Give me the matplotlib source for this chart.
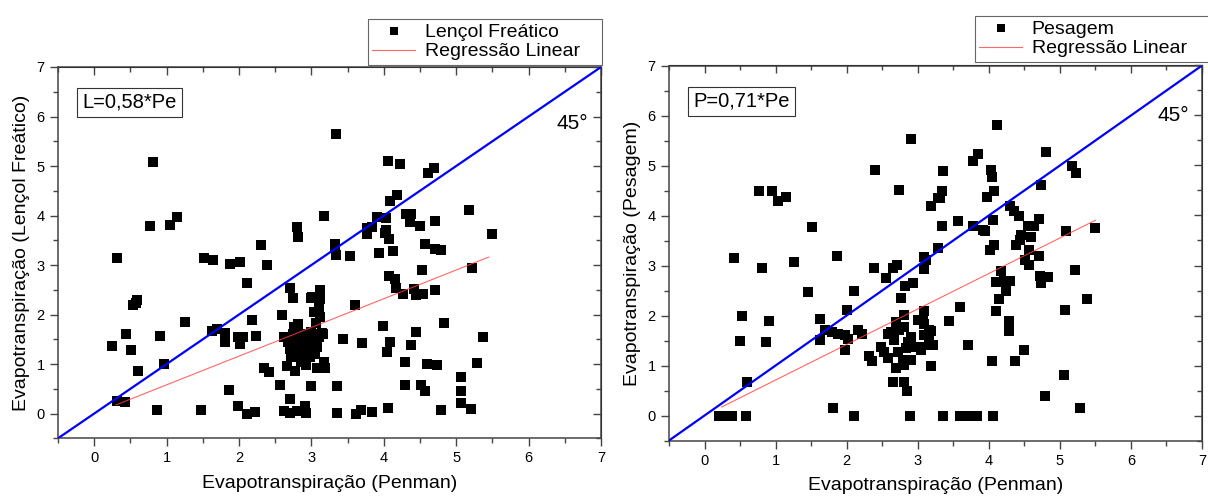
import numpy as np
import matplotlib
matplotlib.use("Agg")
import matplotlib.pyplot as plt

plt.rcParams["font.family"] = ["Liberation Sans", "DejaVu Sans"]

# Lençol freático vs Penman (mm/dia)
lf_x = [3.34, 0.81, 0.77, 1.05, 1.14, 0.31, 1.52, 1.64, 1.88, 2.01, 2.11, 2.31, 2.38, 2.80, 2.81,
        3.18, 3.32, 3.33, 3.34, 3.54, 2.71, 2.75, 2.99, 3.12, 3.12, 0.59,
        4.06, 4.23, 4.61, 4.69, 4.18, 4.09, 3.91, 4.03, 4.31, 4.38, 4.36, 4.50, 4.71, 5.18, 5.49,
        3.77, 3.84, 3.77, 4.03, 4.02, 4.07, 3.93, 4.13, 4.57, 4.71, 4.79, 4.53, 5.22,
        4.07, 4.15, 4.17, 4.27, 4.42, 4.45, 4.54, 4.71, 3.01,
        0.58, 0.54, 3.10, 3.03, 3.12, 2.59, 1.26, 2.18, 3.07, 2.81, 1.63, 1.70, 1.81, 1.81,
        0.44, 0.91, 1.99, 2.05, 2.01, 2.24, 3.16, 3.44, 0.25, 0.51, 0.96, 0.61, 2.34, 2.41,
        2.66, 2.77, 3.08, 3.19, 3.18, 1.86, 2.56, 3.00, 3.36, 0.31, 0.43, 0.87, 1.47, 1.98,
        2.11, 2.22, 2.71, 2.62, 2.71, 2.80, 2.92, 2.91, 3.36,
        2.62, 2.68, 2.70, 2.75, 2.78, 2.80, 2.82, 2.85, 2.87, 2.88, 2.90, 2.92, 2.95, 2.96,
        2.98, 3.00, 3.02, 3.05, 3.08, 3.10, 2.72, 2.85, 2.93, 3.00, 2.80, 3.05, 2.76,
        3.60, 3.15, 3.08, 3.01, 3.70, 3.99, 4.09, 4.04, 4.44, 4.37, 4.83, 5.37, 5.29, 4.29,
        4.60, 4.73, 5.07, 4.29, 4.52, 4.57, 5.07, 5.06, 5.20, 4.79, 3.61, 3.69, 3.84, 4.06]
lf_y = [5.65, 5.09, 3.79, 3.81, 3.98, 3.15, 3.14, 3.10, 3.03, 3.07, 2.64, 3.40, 3.01, 3.77, 3.57,
        3.99, 3.42, 3.35, 3.20, 3.19, 2.53, 2.33, 2.33, 2.49, 2.31, 2.29,
        5.11, 5.05, 4.85, 4.95, 4.41, 4.30, 3.97, 3.94, 4.04, 4.04, 3.87, 3.79, 3.88, 4.12, 3.63,
        3.74, 3.77, 3.63, 3.71, 3.64, 3.52, 3.24, 3.28, 3.42, 3.33, 3.30, 2.89, 2.95,
        2.78, 2.72, 2.54, 2.42, 2.52, 2.39, 2.42, 2.49, 2.36,
        2.24, 2.19, 2.16, 2.06, 1.96, 2.00, 1.84, 1.89, 1.82, 1.81, 1.67, 1.70, 1.62, 1.45,
        1.61, 1.57, 1.54, 1.54, 1.40, 1.57, 1.61, 1.50, 1.36, 1.28, 1.01, 0.86, 0.91, 0.84,
        0.96, 0.86, 0.93, 0.91, 1.05, 0.47, 0.57, 0.55, 0.56, 0.26, 0.23, 0.08, 0.07, 0.16,
        0.00, 0.04, 0.29, 0.06, 0.02, 0.06, 0.02, 0.16, 0.02,
        1.55, 1.45, 1.30, 1.60, 1.50, 1.40, 1.25, 1.60, 1.35, 1.20, 1.10, 1.50, 1.30, 1.45,
        1.15, 1.25, 1.40, 1.20, 1.35, 1.55, 1.15, 1.05, 0.98, 1.65, 1.70, 1.60, 1.75,
        2.19, 1.62, 1.45, 1.31, 1.43, 1.77, 1.44, 1.25, 1.64, 1.38, 1.83, 1.54, 1.03, 1.05,
        1.01, 0.98, 0.74, 0.57, 0.58, 0.45, 0.45, 0.21, 0.10, 0.08, 0.00, 0.07, 0.03, 0.12]

# Pesagem (lisímetro) vs Penman (mm/dia)
ps_x = [2.91, 2.40, 2.74, 0.77, 0.95, 1.04, 1.14, 3.18, 1.51, 0.41, 0.81, 1.26, 1.86, 2.38,
        2.65, 2.71, 2.56, 2.82, 2.94, 2.77, 3.09, 3.11, 3.09, 1.46, 2.11, 3.28, 3.28,
        4.12, 3.85, 3.78, 4.80, 3.36, 4.03, 4.05, 5.17, 5.23, 3.34, 3.32, 4.07, 3.98, 4.73,
        4.30, 4.36, 4.42, 3.57, 3.34, 3.78, 3.92, 3.95, 4.06, 4.71, 4.55, 4.63, 5.08, 5.50,
        4.45, 4.44, 4.60, 4.38, 4.08, 4.02, 4.56, 4.51, 4.57, 4.70, 5.21, 4.17,
        4.10, 4.22, 4.30, 4.24, 4.72, 4.84, 4.73, 4.15, 5.38,
        3.60, 4.10, 5.07, 3.09, 3.44, 4.28, 4.29, 3.07, 3.18, 3.09, 3.16, 3.21, 3.05,
        3.71, 4.50, 4.05, 4.37, 3.18, 5.06, 4.79, 5.29, 3.35, 3.60, 3.69, 3.84, 4.06,
        0.53, 0.91, 2.01, 2.80, 1.63, 0.50, 0.87, 0.60, 0.21, 0.30, 0.39, 0.58, 1.81, 2.11, 2.89,
        1.70, 1.79, 1.88, 1.98, 2.02, 1.63, 2.16, 2.21, 1.98, 2.32, 2.35, 2.65, 2.81, 2.85, 2.69,
        2.70, 2.63, 2.58, 2.67, 2.74, 2.81, 2.91, 3.00, 3.09, 3.16, 3.18, 3.04, 2.95, 2.84,
        2.72, 2.79, 2.91, 2.81, 2.49, 2.53, 2.58, 2.86]
ps_y = [5.54, 4.90, 4.52, 4.48, 4.48, 4.29, 4.38, 4.19, 3.78, 3.16, 2.95, 3.07, 3.19, 2.96,
        2.96, 3.01, 2.76, 2.60, 2.66, 2.36, 3.18, 3.11, 2.93, 2.48, 2.50, 3.35, 4.35,
        5.81, 5.23, 5.09, 5.27, 4.89, 4.91, 4.78, 4.98, 4.85, 4.49, 4.35, 4.49, 4.38, 4.61,
        4.19, 4.09, 3.99, 3.90, 3.80, 3.79, 3.71, 3.70, 3.91, 3.94, 3.80, 3.80, 3.70, 3.76,
        3.61, 3.51, 3.57, 3.41, 3.41, 3.31, 3.31, 3.12, 3.02, 3.20, 2.91, 2.90,
        2.68, 2.69, 2.69, 2.50, 2.79, 2.78, 2.66, 2.33, 2.33,
        2.17, 2.09, 2.12, 2.09, 1.90, 1.90, 1.69, 1.91, 1.69, 1.61, 1.51, 1.41, 1.31,
        1.41, 1.31, 1.10, 1.10, 1.00, 0.81, 0.40, 0.16, 0.00, 0.00, 0.00, 0.00, 0.00,
        2.00, 1.90, 2.11, 2.02, 1.93, 1.49, 1.48, 0.68, 0.00, 0.00, 0.00, 0.00, 0.16, 0.00, 0.00,
        1.71, 1.68, 1.64, 1.61, 1.54, 1.52, 1.71, 1.63, 1.31, 1.19, 1.09, 0.68, 0.68, 0.50, 0.95,
        1.88, 1.68, 1.64, 1.51, 1.71, 1.78, 1.58, 1.91, 1.84, 1.71, 1.41, 1.38, 1.38, 1.35,
        1.28, 1.11, 1.11, 1.01, 1.38, 1.28, 1.15, 1.48]

# regressões lineares passando pela origem
lf_slope = 0.58
lf_fit_x = [0.30, 5.45]
ps_slope = 0.71
ps_fit_x = [0.24, 5.50]

W, H = 1208, 497
fig = plt.figure(figsize=(W / 100, H / 100), dpi=100)

ax1 = fig.add_axes([58 / W, (H - 438.3) / H, 543 / W, 371.3 / H])
ax2 = fig.add_axes([669 / W, (H - 440.5) / H, 533 / W, 375 / H])

# caixa da legenda acima de cada painel: (x0, y0, largura) em fração dos eixos
panels = [
    (ax1, lf_x, lf_y, lf_slope, lf_fit_x, "Lençol Freático", "L=0,58*Pe",
     "Evapotranspiração (Lençol Freático)", 5.85, (0.571, 0.006, 0.431)),
    (ax2, ps_x, ps_y, ps_slope, ps_fit_x, "Pesagem", "P=0,71*Pe",
     "Evapotranspiração (Pesagem)", 6.0, (0.574, 0.010, 0.440)),
]

for ax, xs, ys, slope, fit_x, name, eq, ylab, y45, lbox in panels:
    ax.set_xlim(-0.5, 7)
    ax.set_ylim(-0.5, 7)
    ax.plot([-0.5, 7], [-0.5, 7], color="#0000ff", lw=1.6, zorder=3)
    ax.scatter(xs, ys, marker="s", s=48, color="black", linewidths=0,
               label=name, zorder=2)
    fx = np.array(fit_x)
    ax.plot(fx, slope * fx, color="#ff4040", lw=0.8, alpha=0.8,
            label="Regressão Linear", zorder=4)

    ax.text(0.045, 0.905, eq, transform=ax.transAxes, fontsize=14.5, va="center",
            bbox=dict(boxstyle="square,pad=0.25", fc="white", ec="#333333", lw=0.8))
    ax.text(6.6, y45, "45°", fontsize=15, ha="center", va="center")

    ax.set_xticks(range(0, 8))
    ax.set_yticks(range(0, 8))
    ax.set_xticks(np.arange(-0.5, 7.01, 0.5), minor=True)
    ax.set_yticks(np.arange(-0.5, 7.01, 0.5), minor=True)
    ax.tick_params(which="major", direction="out", length=6, width=1, color="#444444",
                   labelsize=10.5)
    ax.tick_params(which="minor", direction="out", length=3.5, width=1, color="#444444")
    for s in ax.spines.values():
        s.set_color("#444444")
        s.set_linewidth(1.1)

    # espelho dos eixos com marcas para dentro
    top = ax.secondary_xaxis("top")
    top.set_xticks(range(0, 8))
    top.set_xticks(np.arange(-0.5, 7.01, 0.5), minor=True)
    top.tick_params(which="both", direction="in", labeltop=False, color="#444444", width=1)
    top.tick_params(which="major", length=6)
    top.tick_params(which="minor", length=3.5)
    right = ax.secondary_yaxis("right")
    right.set_yticks(range(0, 8))
    right.set_yticks(np.arange(-0.5, 7.01, 0.5), minor=True)
    right.tick_params(which="both", direction="in", labelright=False, color="#444444", width=1)
    right.tick_params(which="major", length=6)
    right.tick_params(which="minor", length=3.5)

    ax.set_xlabel("Evapotranspiração (Penman)", fontsize=14, labelpad=7)
    ax.set_ylabel(ylab, fontsize=14, labelpad=5)

    x0, y0, w = lbox
    leg = ax.legend(loc="lower left", bbox_to_anchor=(x0, 1 + y0, w, 0.1), mode="expand",
                    borderaxespad=0, fontsize=14, fancybox=False, edgecolor="#666666",
                    framealpha=1, handlelength=2.2, handletextpad=0.5, borderpad=0.22,
                    labelspacing=0.12, markerscale=0.8)
    leg.get_frame().set_linewidth(0.8)

fig.savefig("out.png", dpi=100)
